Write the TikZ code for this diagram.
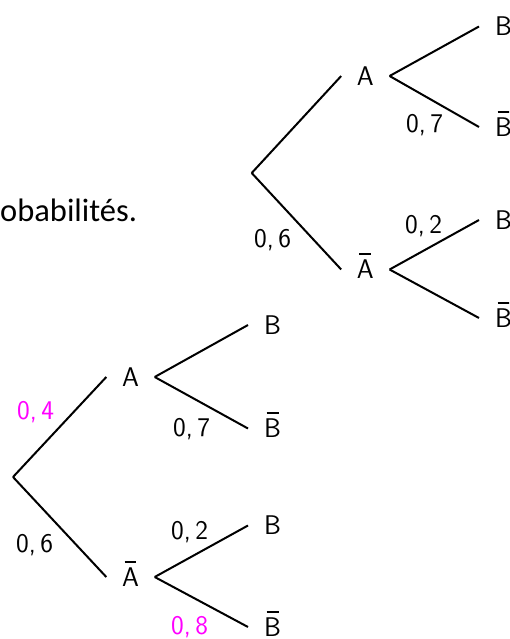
\documentclass[tikz,border=0pt]{standalone}
\usepackage{fontspec}
\setmainfont{Liberation Sans}
\newfontfamily\calib{Carlito}
\definecolor{mag}{RGB}{255,0,255}
\newcommand\ovl[1]{\leavevmode\setbox0\hbox{#1}\makebox[0pt][l]{\makebox[\wd0]{\rule[0.87em]{0.44em}{0.075em}}}#1}
\begin{document}
\begin{tikzpicture}[x=1pt,y=-1pt]
\tikzset{
 br/.style={line width=2pt, black},
 ev/.style={font=\sffamily\fontsize{27}{32}\selectfont, text height=18.7pt, text depth=0pt, inner ysep=0pt},
 mid/.style={ev, inner xsep=0pt, minimum width=48pt},
 leaf/.style={ev, anchor=west, inner xsep=16pt},
 pr/.style={font=\sffamily\fontsize{27}{32}\selectfont, anchor=base west, inner sep=0pt},
 prm/.style={pr, text=mag},
}
\useasboundingbox (0,0) rectangle (509,639);
\clip (0,0) rectangle (509,639);
% text fragment
\node[font=\calib\fontsize{32.5}{38}\selectfont, anchor=base west, inner sep=0pt] (t) at (0,221) {obabilités.};
% upper tree
\coordinate (r1) at (251.7,173);
\node[mid] (a1) at (365.4,76) {A};
\node[mid] (na1) at (365.4,269.5) {\ovl{A}};
\node[leaf] (b1) at (479,26.5) {B};
\node[leaf] (nb1) at (479,127) {\ovl{B}};
\node[leaf] (b2) at (479,220) {B};
\node[leaf] (nb2) at (479,318) {\ovl{B}};
\draw[br] (r1) -- (a1.west);
\draw[br] (r1) -- (na1.west);
\draw[br] (a1.east) -- (b1.west);
\draw[br] (a1.east) -- (nb1.west);
\draw[br] (na1.east) -- (b2.west);
\draw[br] (na1.east) -- (nb2.west);
\node[pr] (u07) at (406,133) {0,\,7};
\node[pr] (u06) at (254,247) {0,\,6};
\node[pr] (u02) at (405,233) {0,\,2};
% lower tree
\coordinate (r2) at (13,477);
\node[mid] (a2) at (130.5,377) {A};
\node[mid] (na2) at (130.5,577) {\ovl{A}};
\node[leaf] (b3) at (248,325) {B};
\node[leaf] (nb3) at (248,428.5) {\ovl{B}};
\node[leaf] (b4) at (248,525.5) {B};
\node[leaf] (nb4) at (248,627) {\ovl{B}};
\draw[br] (r2) -- (a2.west);
\draw[br] (r2) -- (na2.west);
\draw[br] (a2.east) -- (b3.west);
\draw[br] (a2.east) -- (nb3.west);
\draw[br] (na2.east) -- (b4.west);
\draw[br] (na2.east) -- (nb4.west);
\node[prm] (l04) at (17,419) {0,\,4};
\node[pr] (l07) at (173,436) {0,\,7};
\node[pr] (l06) at (16,552) {0,\,6};
\node[pr] (l02) at (171,539) {0,\,2};
\node[prm] (l08) at (171,634) {0,\,8};
\end{tikzpicture}
\end{document}
